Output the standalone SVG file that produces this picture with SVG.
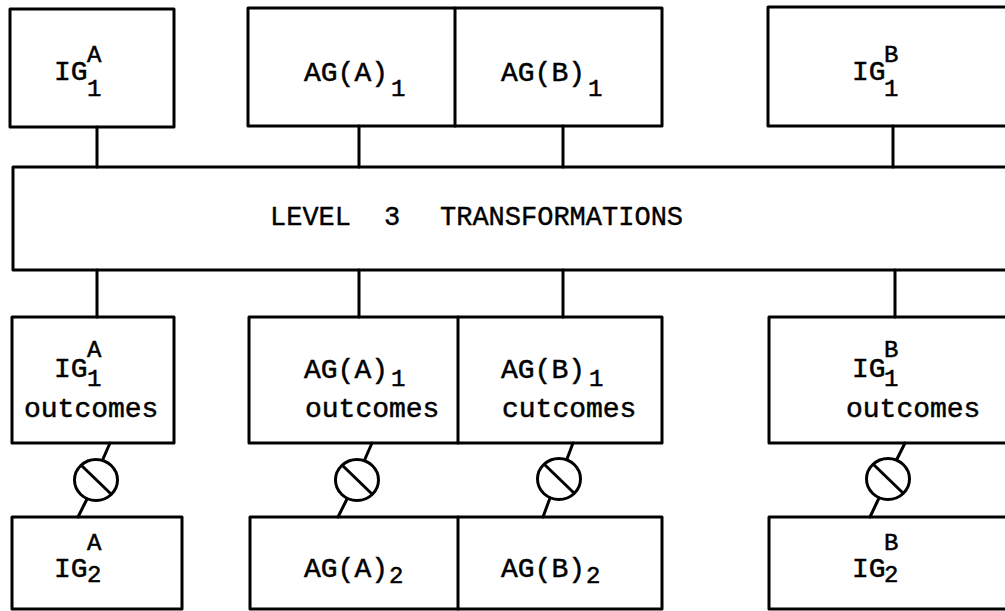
<svg xmlns="http://www.w3.org/2000/svg" width="1005" height="611" viewBox="0 0 1005 611">
<style>
.box{fill:none;stroke:#000;stroke-width:3;stroke-linejoin:round}
.ln{fill:none;stroke:#000;stroke-width:3;stroke-linecap:round}
.t{font-family:"Liberation Mono","DejaVu Sans Mono",monospace;font-size:28px;fill:#000;stroke:#000;stroke-width:0.5}
.s{font-family:"Liberation Mono","DejaVu Sans Mono",monospace;font-size:24px;fill:#000;stroke:#000;stroke-width:0.5}
.big{font-family:"Liberation Mono","DejaVu Sans Mono",monospace;font-size:27px;fill:#000;stroke:#000;stroke-width:0.4}
</style>
<rect width="1005" height="611" fill="#fff"/>
<g id="connectors">
  <line class="ln" x1="97" y1="127" x2="97" y2="167"/>
  <line class="ln" x1="359" y1="126" x2="359" y2="167"/>
  <line class="ln" x1="563" y1="126" x2="563" y2="167"/>
  <line class="ln" x1="893" y1="126" x2="893" y2="167"/>
  <line class="ln" x1="97" y1="270" x2="97" y2="317"/>
  <line class="ln" x1="359" y1="270" x2="359" y2="317"/>
  <line class="ln" x1="563" y1="270" x2="563" y2="317"/>
  <line class="ln" x1="895" y1="270" x2="895" y2="317"/>
  <g id="sep-igA">
    <line class="ln" x1="110" y1="443" x2="103" y2="459"/>
    <ellipse class="ln" cx="96" cy="480" rx="21.5" ry="20.5"/>
    <line class="ln" x1="82" y1="466" x2="111" y2="494"/>
    <line class="ln" x1="87" y1="499" x2="78" y2="517"/>
  </g>
  <g id="sep-agA">
    <line class="ln" x1="372" y1="443" x2="365" y2="459"/>
    <ellipse class="ln" cx="357" cy="480" rx="21.5" ry="20.5"/>
    <line class="ln" x1="343" y1="466" x2="372" y2="494"/>
    <line class="ln" x1="347" y1="499" x2="338" y2="517"/>
  </g>
  <g id="sep-agB">
    <line class="ln" x1="573" y1="443" x2="567" y2="459"/>
    <ellipse class="ln" cx="559" cy="479" rx="21.5" ry="20.5"/>
    <line class="ln" x1="545" y1="465" x2="574" y2="493"/>
    <line class="ln" x1="550" y1="498" x2="543" y2="517"/>
  </g>
  <g id="sep-igB">
    <line class="ln" x1="905" y1="443" x2="897" y2="459"/>
    <ellipse class="ln" cx="888" cy="479" rx="21.5" ry="20.5"/>
    <line class="ln" x1="874" y1="465" x2="903" y2="493"/>
    <line class="ln" x1="879" y1="498" x2="870" y2="517"/>
  </g>
</g>
<g id="IG1A">
  <rect class="box" x="10" y="9" width="164" height="118"/>
  <text class="t" x="54" y="80">IG</text><text class="s" x="87" y="62">A</text><text class="s" x="87" y="96">1</text>
</g>
<g id="AG1">
  <rect class="box" x="248" y="8" width="414" height="118"/>
  <line class="ln" x1="455" y1="8" x2="455" y2="126"/>
  <text class="t" x="304" y="81">AG(A)</text><text class="s" x="391" y="96">1</text>
  <text class="t" x="501" y="81">AG(B)</text><text class="s" x="588" y="96">1</text>
</g>
<g id="IG1B">
  <rect class="box" x="768" y="7" width="250" height="119"/>
  <text class="t" x="852" y="80">IG</text><text class="s" x="884" y="62">B</text><text class="s" x="884" y="96">1</text>
</g>
<g id="level3">
  <rect class="box" x="13" y="167" width="1005" height="103"/>
  <text class="big" x="270" y="225">LEVEL</text>
  <text class="big" x="384" y="225">3</text>
  <text class="big" x="440" y="225">TRANSFORMATIONS</text>
</g>
<g id="IG1A-out">
  <rect class="box" x="12" y="317" width="162" height="126"/>
  <text class="t" x="54" y="377">IG</text><text class="s" x="87" y="357">A</text><text class="s" x="87" y="386">1</text>
  <text class="t" x="24" y="417">outcomes</text>
</g>
<g id="AG1-out">
  <rect class="box" x="249" y="317" width="413" height="126"/>
  <line class="ln" x1="458" y1="317" x2="458" y2="443"/>
  <text class="t" x="304" y="378">AG(A)</text><text class="s" x="391" y="386">1</text>
  <text class="t" x="305" y="417">outcomes</text>
  <text class="t" x="501" y="378">AG(B)</text><text class="s" x="589" y="386">1</text>
  <text class="t" x="502" y="417">cutcomes</text>
</g>
<g id="IG1B-out">
  <rect class="box" x="769" y="317" width="250" height="126"/>
  <text class="t" x="852" y="377">IG</text><text class="s" x="884" y="357">B</text><text class="s" x="884" y="386">1</text>
  <text class="t" x="846" y="417">outcomes</text>
</g>
<g id="IG2A">
  <rect class="box" x="12" y="517" width="170" height="92"/>
  <text class="t" x="54" y="577">IG</text><text class="s" x="87" y="550">A</text><text class="s" x="87" y="582">2</text>
</g>
<g id="AG2">
  <rect class="box" x="250" y="517" width="412" height="92"/>
  <line class="ln" x1="458" y1="517" x2="458" y2="609"/>
  <text class="t" x="304" y="577">AG(A)</text><text class="s" x="389" y="583">2</text>
  <text class="t" x="501" y="577">AG(B)</text><text class="s" x="586" y="583">2</text>
</g>
<g id="IG2B">
  <rect class="box" x="769" y="517" width="250" height="92"/>
  <text class="t" x="852" y="577">IG</text><text class="s" x="884" y="550">B</text><text class="s" x="884" y="582">2</text>
</g>
</svg>
